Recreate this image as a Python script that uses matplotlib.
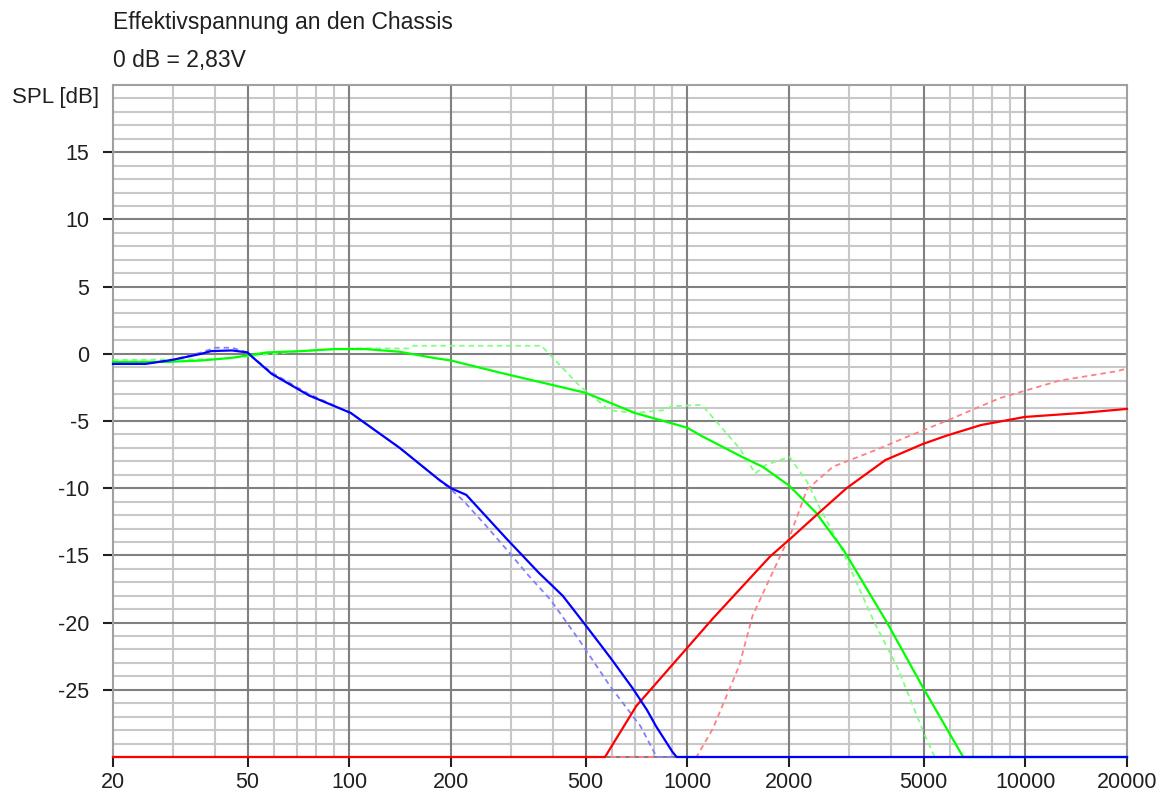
import matplotlib
matplotlib.use("Agg")
import matplotlib.pyplot as plt
from matplotlib.ticker import FixedLocator, NullFormatter

plt.rcParams['font.family'] = ['Liberation Sans', 'DejaVu Sans']

title1 = "Effektivspannung an den Chassis"
title2 = "0 dB = 2,83V"
ylabel = "SPL [dB]"

xticks = [20, 50, 100, 200, 500, 1000, 2000, 5000, 10000, 20000]
xtick_labels = ["20", "50", "100", "200", "500", "1000", "2000", "5000", "10000", "20000"]
yticks = [-25, -20, -15, -10, -5, 0, 5, 10, 15]
ytick_labels = ["-25", "-20", "-15", "-10", "-5", "0", "5", "10", "15"]

# Woofer (blue)
woofer_f = [20, 25, 30, 36.5, 39, 45, 50, 52, 59, 76, 101, 141, 185, 200, 222, 293, 364, 428,
            497, 552, 600, 690, 760, 808, 903, 930, 20000]
woofer_db = [-0.75, -0.75, -0.45, 0.0, 0.2, 0.25, 0.1, -0.3, -1.5, -3.1, -4.4, -7.0, -9.4,
             -10.0, -10.5, -13.8, -16.3, -18.0, -20.1, -21.6, -22.8, -24.9, -26.5, -27.7,
             -29.6, -30, -30]
woofer_ref_f = [20, 25, 30, 36.5, 40, 45, 50, 52, 59, 76, 101, 141, 200, 217, 252, 293, 342,
                394, 482, 590, 727, 804, 815, 20000]
woofer_ref_db = [-0.75, -0.75, -0.45, 0.1, 0.45, 0.45, 0.1, -0.3, -1.4, -3.0, -4.4, -7.0, -10.1,
                 -10.9, -12.7, -14.6, -16.6, -18.3, -21.4, -24.7, -27.7, -29.8, -30, -30]

# Mid (green)
mid_f = [20, 29, 36.5, 45, 57, 72, 90, 112, 141, 177, 200, 279, 500, 700, 1000, 1100, 1460,
         1670, 2000, 2400, 2900, 3900, 5000, 6550, 20000]
mid_db = [-0.6, -0.6, -0.5, -0.3, 0.1, 0.2, 0.35, 0.35, 0.15, -0.3, -0.5, -1.4, -2.9, -4.4,
          -5.5, -6.1, -7.7, -8.4, -9.8, -11.8, -14.6, -20.0, -24.9, -30, -30]
mid_ref_f = [20, 40, 50, 72, 100, 150, 155, 370, 481, 589, 700, 850, 900, 1100, 1140,
             1425, 1590, 1700, 1880, 2010, 2260, 2460, 2834, 3580, 4200, 4990, 5350, 5400, 20000]
mid_ref_db = [-0.45, -0.4, -0.2, 0.2, 0.4, 0.4, 0.6, 0.6, -2.4, -4.2, -4.4, -4.2, -3.9,
              -3.8, -4.2, -7.0, -8.9, -8.3, -7.9, -7.7, -9.5, -11.4, -14.3, -20.0, -23.4,
              -28.1, -29.8, -30, -30]

# Tweeter (red)
tw_f = [20, 571, 707, 990, 1190, 1755, 2010, 2460, 2960, 3860, 4990, 5830, 7400, 9960,
        14700, 20000]
tw_db = [-30, -30, -26.2, -22.0, -19.7, -15.1, -13.8, -11.8, -10.0, -7.9, -6.7, -6.1, -5.3,
         -4.7, -4.4, -4.1]
tw_ref_f = [20, 1065, 1190, 1425, 1560, 1920, 2010, 2260, 2700, 3580, 4450, 5830, 8400,
            12600, 18600, 20000]
tw_ref_db = [-30, -30, -27.9, -23.2, -19.5, -14.6, -13.6, -10.1, -8.4, -7.2, -6.2, -5.0, -3.3,
             -2.0, -1.3, -1.1]

W, H = 1168, 798
fig = plt.figure(figsize=(W / 100, H / 100), dpi=100)
ax = fig.add_axes([113 / W, 1 - 757 / H, (1127 - 113) / W, (757 - 85) / H])
ax.set_xscale('log')
ax.set_xlim(20, 20000)
ax.set_ylim(-30, 20)

major_x = [20, 50, 100, 200, 500, 1000, 2000, 5000, 10000, 20000]
minor_x = [30, 40, 60, 70, 80, 90, 300, 400, 600, 700, 800, 900, 3000, 4000, 6000, 7000,
           8000, 9000]
for f in minor_x:
    ax.axvline(f, color='#c8c8c8', lw=1.5, zorder=1)
for d in range(-29, 20):
    if d % 5 != 0:
        ax.axhline(d, color='#c8c8c8', lw=1.5, zorder=1)
for f in major_x[1:-1]:
    ax.axvline(f, color='#808080', lw=1.5, zorder=2)
for d in range(-25, 20, 5):
    ax.axhline(d, color='#808080', lw=1.5, zorder=2)

dash = (0, (3, 2.2))
ax.plot(mid_ref_f, mid_ref_db, color='#80ff80', lw=1.3, ls=dash, zorder=3, clip_on=False)
ax.plot(tw_ref_f, tw_ref_db, color='#ff8080', lw=1.3, ls=dash, zorder=3, clip_on=False)
ax.plot(woofer_ref_f, woofer_ref_db, color='#8080ff', lw=1.3, ls=dash, zorder=3, clip_on=False)
ax.plot(mid_f, mid_db, color='#00ff00', lw=1.6, zorder=4, clip_on=False)
ax.plot(tw_f, tw_db, color='#ff0000', lw=1.6, zorder=4, clip_on=False)
ax.plot(woofer_f, woofer_db, color='#0000ff', lw=1.6, zorder=5, clip_on=False)

for s in ax.spines.values():
    s.set_color('#a0a0a0')
    s.set_linewidth(1.5)
ax.spines['bottom'].set_color('#808080')

ax.xaxis.set_major_locator(FixedLocator(xticks))
ax.set_xticklabels(xtick_labels)
ax.xaxis.set_minor_locator(FixedLocator([]))
ax.xaxis.set_minor_formatter(NullFormatter())
ax.set_yticks(yticks)
ax.set_yticklabels(ytick_labels)
ax.tick_params(axis='both', direction='out', length=7, width=1.5, color='#202020',
               labelsize=15.5, labelcolor='#202020')
ax.tick_params(axis='y', pad=10)
ax.tick_params(axis='x', pad=4)

fig.text(113 / W, 1 - 22 / H, title1, fontsize=16.5, va='center', ha='left', color='#202020')
fig.text(113 / W, 1 - 60 / H, title2, fontsize=16.5, va='center', ha='left', color='#202020')
fig.text(12 / W, 1 - 97 / H, ylabel, fontsize=16, va='center', ha='left', color='#202020')

fig.savefig('out.png', dpi=100, facecolor='white')
